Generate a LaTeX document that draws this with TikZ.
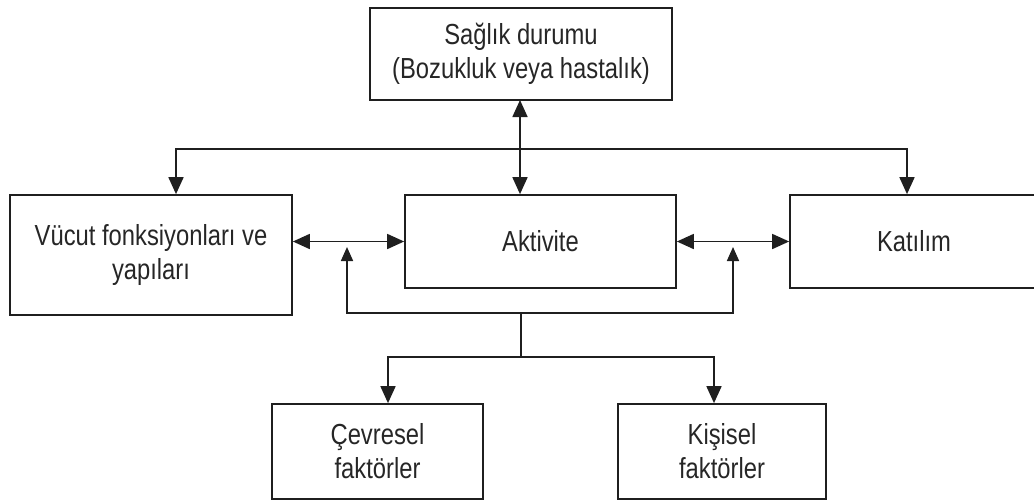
\documentclass[tikz,border=0pt]{standalone}
\usepackage{fontspec}
\setmainfont[FakeStretch=0.82]{Liberation Sans}
\usetikzlibrary{arrows.meta}
\begin{document}
\begin{tikzpicture}[x=1pt,y=-1pt,
  box/.style={draw=black!88, line width=1.7pt, inner sep=0pt, align=center,
    font=\fontsize{29}{34}\selectfont, text=black!85},
  link/.style={draw=black!88, line width=1.7pt},
  bigtips/.style={{Triangle[length=17pt,width=15pt]}-{Triangle[length=17pt,width=15pt]}},
  smalltips/.style={{Triangle[length=14pt,width=12pt]}-{Triangle[length=14pt,width=12pt]}},
  downtip/.style={-{Triangle[length=17pt,width=15pt]}}]
\useasboundingbox (0,0) rectangle (1034,499);
\clip (0,0) rectangle (1034,499);

\node[box, minimum width=302pt, minimum height=92pt] (health) at (521,54)
  {Sağlık durumu\\(Bozukluk veya hastalık)};
\node[box, minimum width=282pt, minimum height=120pt] (body) at (151,255)
  {Vücut fonksiyonları ve\\yapıları};
\node[box, minimum width=271pt, minimum height=93pt] (act) at (540.5,241.5)
  {Aktivite};
\node[box, minimum width=248pt, minimum height=93pt] (part) at (914,241.5)
  {Katılım};
\node[box, minimum width=211pt, minimum height=95pt] (env) at (377.5,451.5)
  {Çevresel\\faktörler};
\node[box, minimum width=208pt, minimum height=95pt] (pers) at (722,451.5)
  {Kişisel\\faktörler};

% health <-> activity
\coordinate (hs) at (520,100);
\draw[link, bigtips] (hs) -- (hs |- act.north);

% top distribution line
\coordinate (hl) at (176,149);
\coordinate (hr) at (907,149);
\draw[link, bigtips] (hl |- body.north) -- (hl) -- (hr) -- (hr |- part.north);

% horizontal double arrows
\draw[link, bigtips] (body.east |- act.west) -- (act.west);
\draw[link, bigtips] (act.east) -- (part.west);

% feedback line from contextual factors
\coordinate (fl) at (347,313);
\coordinate (fr) at (733,313);
\coordinate (flt) at (347,247);
\coordinate (frt) at (733,247);
\draw[link, smalltips] (flt) -- (fl) -- (fr) -- (frt);

% branch to contextual factors
\coordinate (c1) at (521,313);
\coordinate (c2) at (521,357);
\draw[link] (c1) -- (c2);
\coordinate (bl) at (388,357);
\coordinate (br) at (714,357);
\draw[link, bigtips] (bl |- env.north) -- (bl) -- (br) -- (br |- pers.north);
\end{tikzpicture}
\end{document}
